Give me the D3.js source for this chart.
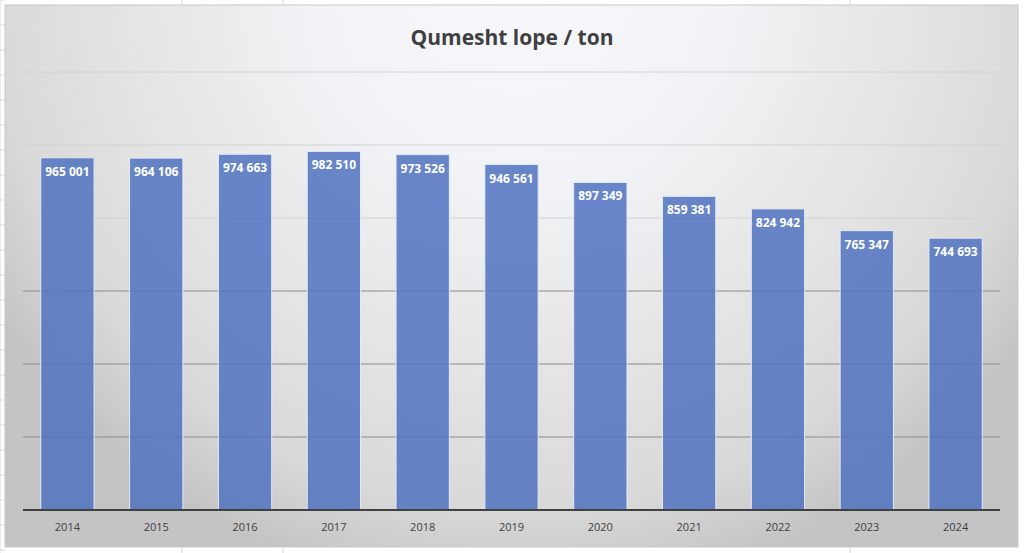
<!DOCTYPE html>
<html><head><meta charset="utf-8">
<script src="https://cdn.jsdelivr.net/npm/d3@7"></script>
<style>body{margin:0;background:#fff}svg{display:block}</style></head>
<body><svg id="c" width="1024" height="553"></svg>
<script>
const years=["2014","2015","2016","2017","2018","2019","2020","2021","2022","2023","2024"];
const values=[965001,964106,974663,982510,973526,946561,897349,859381,824942,765347,744693];
const labels=["965 001","964 106","974 663","982 510","973 526","946 561","897 349","859 381","824 942","765 347","744 693"];
const ticks=[0,200000,400000,600000,800000,1000000,1200000];
const svg=d3.select("#c");
// spreadsheet grid behind
const g0=svg.append("g").attr("stroke","#d9d9d9");
[0,182,283,850].forEach(x=>g0.append("line").attr("x1",x).attr("x2",x).attr("y1",0).attr("y2",553));
d3.range(0,553,25).forEach(y=>g0.append("line").attr("x1",0).attr("x2",5).attr("y1",y).attr("y2",y));
const defs=svg.append("defs");
const rg=defs.append("radialGradient").attr("id","bg").attr("gradientUnits","userSpaceOnUse")
 .attr("cx",520).attr("cy",-20).attr("r",620);
[[0,"#f8f9fd"],[0.35,"#f1f2f5"],[0.6,"#e6e6e6"],[0.85,"#d9d9d9"],[1,"#c4c4c4"]].forEach(([o,c])=>rg.append("stop").attr("offset",o).attr("stop-color",c));
svg.append("rect").attr("x",5).attr("y",5).attr("width",1013).attr("height",542).attr("fill","url(#bg)").attr("stroke","#c8c8c8");
const x=d3.scaleBand().domain(years).range([23,1000]).paddingInner(0.4).paddingOuter(0.2);
const y=d3.scaleLinear().domain([0,1200000]).range([510,72]);
svg.append("g").selectAll("line").data(ticks.slice(1)).join("line")
 .attr("x1",23).attr("x2",1000).attr("y1",d=>y(d)).attr("y2",d=>y(d))
 .attr("stroke",(d,i)=>i<3?"#8c8c8c":"#d2d2d2").attr("stroke-width",1);
svg.append("g").selectAll("rect").data(values).join("rect")
 .attr("x",(d,i)=>x(years[i])).attr("width",x.bandwidth())
 .attr("y",d=>y(d)).attr("height",d=>510-y(d))
 .attr("fill","#4f72c0").attr("fill-opacity",0.85).attr("stroke","#e4e9f5").attr("stroke-width",1);
svg.append("g").selectAll("text").data(values).join("text")
 .attr("x",(d,i)=>x(years[i])+x.bandwidth()/2).attr("y",d=>y(d)+18)
 .attr("text-anchor","middle").attr("fill","#fff").attr("font-family","Open Sans, sans-serif")
 .attr("font-weight","bold").attr("font-size",12).text((d,i)=>labels[i]);
const ax=svg.append("g").attr("transform","translate(0,510)").call(d3.axisBottom(x).tickSize(0).tickPadding(13));
ax.select(".domain").attr("stroke","#404040").attr("stroke-width",2).attr("d","M23,0H1000");
ax.selectAll("text").attr("font-family","Open Sans, sans-serif").attr("font-size",11).attr("fill","#404040");
svg.append("text").attr("x",512).attr("y",45).attr("text-anchor","middle").attr("font-family","Open Sans, sans-serif")
 .attr("font-weight","bold").attr("font-size",21).attr("fill","#404040").text("Qumesht lope / ton");
</script></body></html>
